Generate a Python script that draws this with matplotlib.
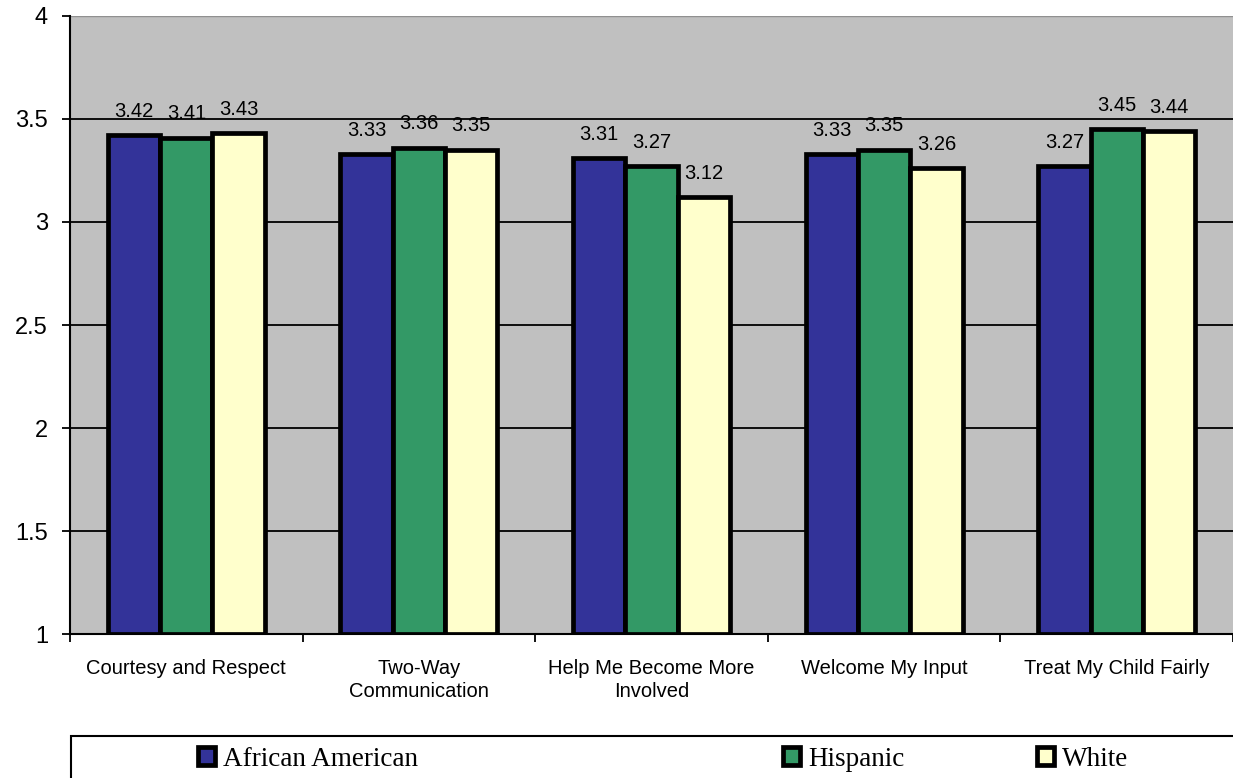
import numpy as np
import matplotlib.pyplot as plt
from matplotlib.patches import Rectangle

categories = ["Courtesy and Respect", "Two-Way\nCommunication",
              "Help Me Become More\nInvolved", "Welcome My Input",
              "Treat My Child Fairly"]
african_american = [3.42, 3.33, 3.31, 3.33, 3.27]
hispanic = [3.41, 3.36, 3.27, 3.35, 3.45]
white = [3.43, 3.35, 3.12, 3.26, 3.44]

series = [("African American", african_american, "#333399"),
          ("Hispanic", hispanic, "#339966"),
          ("White", white, "#FFFFCC")]

fig = plt.figure(figsize=(12.33, 7.78), dpi=100)
ax = fig.add_axes([0.0568, 0.185, 0.9432, 0.7945])
ax.set_facecolor("#C0C0C0")

x = np.arange(len(categories))
w = 0.225
bars = []
for i, (name, vals, col) in enumerate(series):
    b = ax.bar(x + (i - 1) * w, np.array(vals) - 1, w, bottom=1, color=col,
               edgecolor="black", linewidth=3.4, label=name, zorder=3)
    bars.append(b)
    for xi, v in zip(x + (i - 1) * w, vals):
        ax.text(xi, v + 0.07, f"{v:.2f}", ha="center", va="bottom",
                fontsize=14.5, family="Liberation Sans", zorder=4)

ax.set_xlim(-0.5, len(categories) - 0.5)
ax.set_ylim(1, 4)
ax.set_yticks([1, 1.5, 2, 2.5, 3, 3.5, 4])
ax.set_yticklabels(["1", "1.5", "2", "2.5", "3", "3.5", "4"],
                   family="Liberation Sans", fontsize=17)
ax.yaxis.grid(True, color="black", linewidth=1.3, zorder=1)
ax.set_axisbelow(True)

# category labels sit between boundary ticks
ax.set_xticks(np.arange(len(categories) + 1) - 0.5)
ax.set_xticklabels([])
ax.set_xticks(x, minor=True)
ax.set_xticklabels(categories, minor=True, family="Liberation Sans",
                   fontsize=14.5, linespacing=1.25)
ax.tick_params(axis="x", which="minor", length=0, pad=18)
ax.tick_params(axis="x", which="major", length=5.5, width=1.3, direction="out")
ax.tick_params(axis="y", length=5.8, width=1.3, direction="out", pad=10)

for s in ["right", "top"]:
    ax.spines[s].set_visible(False)
ax.spines["left"].set_linewidth(1.5)
ax.spines["bottom"].set_linewidth(1.5)
ax.axhline(4, color="#909090", linewidth=1, zorder=2)

# legend frame running off the right edge
fig.patches.append(Rectangle((71 / 1233, -0.1), 1.2, 1 - 736 / 778 + 0.1,
                             transform=fig.transFigure, fill=False,
                             edgecolor="black", linewidth=1.5))
legend_x = [198 / 1233, 783 / 1233, 1037 / 1233]
for b, lx in zip(bars, legend_x):
    fig.legend(handles=[b], loc="center left", bbox_to_anchor=(lx, 1 - 759 / 778),
               frameon=False, handlelength=0.62, handleheight=0.62,
               handletextpad=0.3, borderaxespad=0, borderpad=0,
               prop={"family": "Liberation Serif", "size": 19.5})

fig.savefig("out.png", dpi=100)
